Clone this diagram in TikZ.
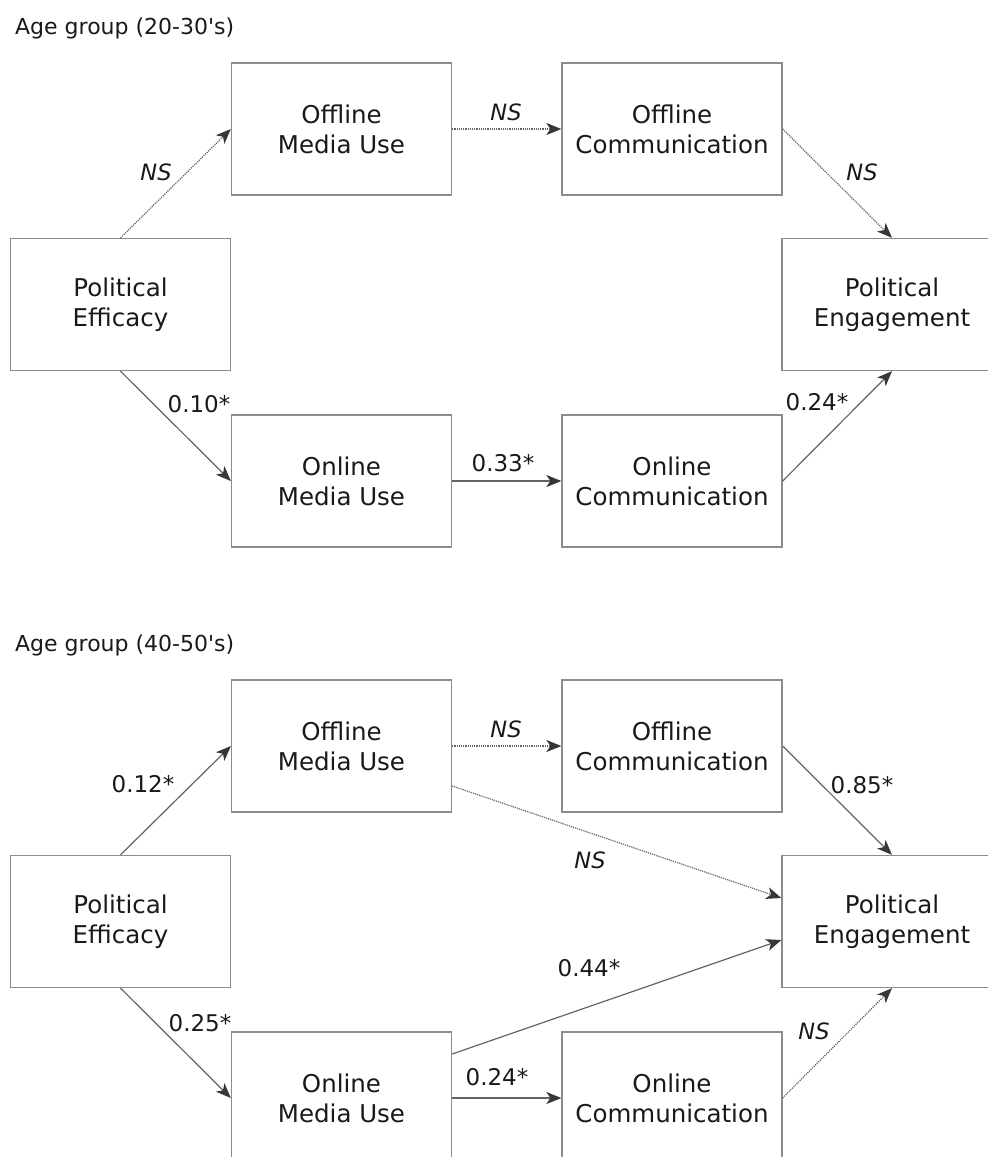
\documentclass[tikz,border=0pt]{standalone}
\usepackage{fontspec}
\setmainfont{DejaVu Sans}
\usepackage{tikz}
\usetikzlibrary{calc,arrows.meta}

\definecolor{boxgray}{RGB}{140,140,140}
\definecolor{linegray}{RGB}{100,100,100}
\definecolor{tipgray}{RGB}{55,55,55}
\definecolor{txtgray}{RGB}{25,25,25}

\tikzset{
  var/.style={draw=boxgray, line width=1.3pt, minimum width=220pt, minimum height=132pt,
              inner sep=0pt, align=center, text=txtgray, font=\fontsize{24.5}{30}\selectfont},
  sig/.style={draw=linegray, line width=1.2pt,
              -{Stealth[length=15pt,width=12pt,inset=4pt,color=tipgray]}},
  nsig/.style={sig, densely dotted},
  coef/.style={inner sep=0pt, text=txtgray, font=\fontsize{23}{26}\selectfont},
  nstxt/.style={inner sep=0pt, text=txtgray, font=\fontsize{22.5}{26}\selectfont\itshape},
  grouptitle/.style={anchor=west, inner sep=0pt, text=txtgray, font=\fontsize{22}{26}\selectfont}
}

\begin{document}
\begin{tikzpicture}[x=1pt,y=-1pt]
    \useasboundingbox (0,0) rectangle (988,1157);
    \clip (0,0) rectangle (988,1157);

    % younger group
    \node[grouptitle] (titleA) at (15,28) {Age group (20-30\textquotesingle s)};
    \node[var] (offmuA)  at (341.5,129)   {Offline\\Media Use};
    \node[var] (offcomA) at (672,129)     {Offline\\Communication};
    \node[var] (efficA)  at (120.5,304.5) {Political\\Efficacy};
    \node[var] (engagA)  at (892,304.5)   {Political\\Engagement};
    \node[var] (onmuA)   at (341.5,481)   {Online\\Media Use};
    \node[var] (oncomA)  at (672,481)     {Online\\Communication};

    \draw[nsig] (efficA.north) -- (offmuA.west);
    \draw[nsig] (offmuA.east) -- (offcomA.west);
    \draw[nsig] (offcomA.east) -- (engagA.north);
    \draw[sig] (efficA.south) -- (onmuA.west);
    \draw[sig] (onmuA.east) -- (oncomA.west);
    \draw[sig] (oncomA.east) -- (engagA.south);

    \node[nstxt] (nsA1) at (156,172) {NS};
    \node[nstxt] (nsA2) at (506,112) {NS};
    \node[nstxt] (nsA3) at (862,172) {NS};
    \node[coef] (cfA1) at (199,404) {0.10*};
    \node[coef] (cfA2) at (503,463) {0.33*};
    \node[coef] (cfA3) at (817,402) {0.24*};

    % older group
    \node[grouptitle] (titleB) at (15,645) {Age group (40-50\textquotesingle s)};
    \node[var] (offmuB)  at (341.5,746)   {Offline\\Media Use};
    \node[var] (offcomB) at (672,746)     {Offline\\Communication};
    \node[var] (efficB)  at (120.5,921.5) {Political\\Efficacy};
    \node[var] (engagB)  at (892,921.5)   {Political\\Engagement};
    \node[var] (onmuB)   at (341.5,1098)  {Online\\Media Use};
    \node[var] (oncomB)  at (672,1098)    {Online\\Communication};

    \draw[sig] (efficB.north) -- (offmuB.west);
    \draw[nsig] (offmuB.east) -- (offcomB.west);
    \draw[sig] (offcomB.east) -- (engagB.north);
    \draw[nsig] ([yshift=-40pt]offmuB.east) -- ([yshift=23.5pt]engagB.west);
    \draw[sig] (efficB.south) -- (onmuB.west);
    \draw[sig] ([yshift=44pt]onmuB.east) -- ([yshift=-18.5pt]engagB.west);
    \draw[sig] (onmuB.east) -- (oncomB.west);
    \draw[nsig] (oncomB.east) -- (engagB.south);

    \node[coef] (cfB1) at (143,784) {0.12*};
    \node[nstxt] (nsB1) at (506,729) {NS};
    \node[coef] (cfB2) at (862,785) {0.85*};
    \node[nstxt] (nsB2) at (590,860) {NS};
    \node[coef] (cfB3) at (589,968) {0.44*};
    \node[coef] (cfB4) at (200,1023) {0.25*};
    \node[coef] (cfB5) at (497,1077) {0.24*};
    \node[nstxt] (nsB3) at (814,1031) {NS};
\end{tikzpicture}
\end{document}
